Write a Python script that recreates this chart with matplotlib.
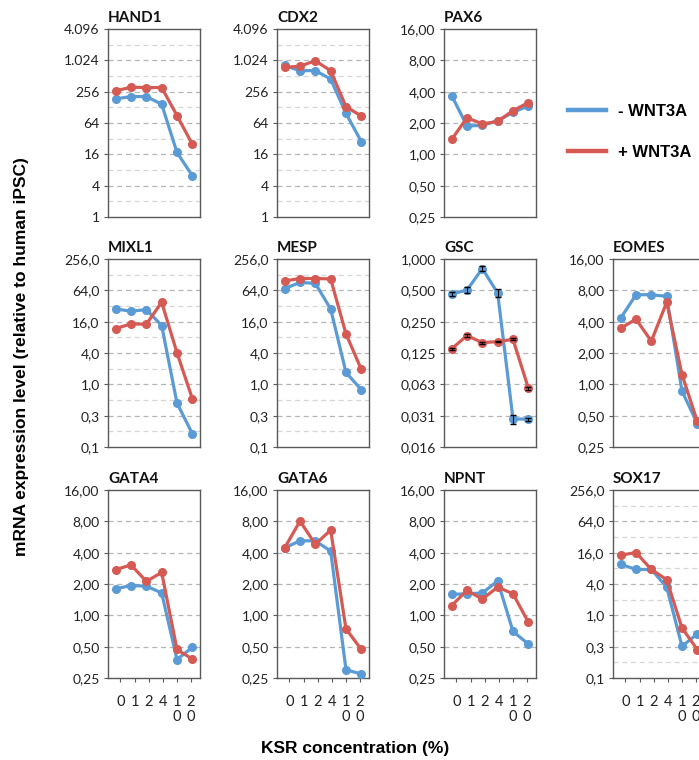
import numpy as np
import matplotlib.pyplot as plt
from matplotlib.lines import Line2D
from matplotlib.ticker import NullFormatter

# KSR concentration (%) categories
ksr_labels = ['0', '1', '2', '4', '1\n0', '2\n0']

genes = ['HAND1', 'CDX2', 'PAX6', 'MIXL1', 'MESP', 'GSC', 'EOMES',
         'GATA4', 'GATA6', 'NPNT', 'SOX17']
grid_pos = [(0, 0), (0, 1), (0, 2), (1, 0), (1, 1), (1, 2), (1, 3),
            (2, 0), (2, 1), (2, 2), (2, 3)]

# expression relative to human iPSC
minus_wnt = {
    'HAND1': [186, 206, 206, 147, 17.4, 6.2],
    'CDX2': [816, 645, 653, 446, 98, 28],
    'PAX6': [3.67, 1.87, 1.90, 2.10, 2.53, 2.92],
    'MIXL1': [28.1, 25.4, 27.3, 13.5, 0.435, 0.113],
    'MESP': [69, 91, 87, 28, 1.69, 0.785],
    'GSC': [0.462, 0.503, 0.81, 0.47, 0.029, 0.029],
    'EOMES': [4.32, 7.26, 7.26, 7.0, 0.86, 0.42],
    'GATA4': [1.80, 1.93, 1.91, 1.64, 0.376, 0.494],
    'GATA6': [4.45, 5.2, 5.2, 4.14, 0.30, 0.273],
    'NPNT': [1.59, 1.61, 1.64, 2.14, 0.70, 0.53],
    'SOX17': [9.6, 7.6, 7.6, 3.5, 0.255, 0.44],
}
plus_wnt = {
    'HAND1': [265, 312, 307, 307, 89, 25],
    'CDX2': [748, 792, 1005, 645, 132, 87],
    'PAX6': [1.39, 2.25, 1.96, 2.07, 2.63, 3.14],
    'MIXL1': [11.8, 14.5, 14.3, 37.8, 4.03, 0.53],
    'MESP': [97, 108, 108, 106, 9.3, 1.93],
    'GSC': [0.137, 0.184, 0.157, 0.161, 0.169, 0.0575],
    'EOMES': [3.46, 4.22, 2.6, 6.14, 1.24, 0.44],
    'GATA4': [2.75, 3.05, 2.12, 2.58, 0.47, 0.38],
    'GATA6': [4.45, 8.04, 4.82, 6.59, 0.74, 0.47],
    'NPNT': [1.24, 1.74, 1.43, 1.87, 1.61, 0.86],
    'SOX17': [14.3, 16.1, 7.6, 4.86, 0.57, 0.22],
}
# small error bars visible on GSC
gsc_err_minus = [0.025, 0.03, 0.05, 0.04, 0.003, 0.001]
gsc_err_plus = [0.003, 0.005, 0.003, 0.003, 0.004, 0.002]

# y axis tick sets (log2 exponents and excel style labels)
ticks_big = ([0, 2, 4, 6, 8, 10, 12], ['1', '4', '16', '64', '256', '1.024', '4.096'])
ticks_mid = ([-2, -1, 0, 1, 2, 3, 4], ['0,25', '0,50', '1,00', '2,00', '4,00', '8,00', '16,00'])
ticks_wide = ([-4, -2, 0, 2, 4, 6, 8], ['0,1', '0,3', '1,0', '4,0', '16,0', '64,0', '256,0'])
ticks_gsc = ([-6, -5, -4, -3, -2, -1, 0], ['0,016', '0,031', '0,063', '0,125', '0,250', '0,500', '1,000'])
gene_ticks = {
    'HAND1': ticks_big, 'CDX2': ticks_big, 'PAX6': ticks_mid,
    'MIXL1': ticks_wide, 'MESP': ticks_wide, 'GSC': ticks_gsc,
    'EOMES': ticks_mid, 'GATA4': ticks_mid, 'GATA6': ticks_mid,
    'NPNT': ticks_mid, 'SOX17': ticks_wide,
}

blue = '#5b9bd5'
red = '#d65a54'
edge = '#595959'

W, H = 699, 760
fig = plt.figure(figsize=(W / 100, H / 100), dpi=100)

col_x = [108, 277, 444, 613]
row_top = [29, 259, 490]
box_w, box_h = 92, 188

x = np.arange(len(ksr_labels))

for gene, (r, c) in zip(genes, grid_pos):
    ax = fig.add_axes([col_x[c] / W, 1 - (row_top[r] + box_h) / H, box_w / W, box_h / H])
    ax.set_yscale('log', base=2)
    exps, labels = gene_ticks[gene]
    ax.set_ylim(2.0 ** exps[0], 2.0 ** exps[-1])
    ax.set_xlim(-0.5, 5.5)

    major = [2.0 ** e for e in exps]
    ax.set_yticks(major)
    ax.set_yticklabels(labels, family='Lato', fontsize=10, color='#222222')
    if exps[1] - exps[0] == 2:
        minor = [2.0 ** (e + 1) for e in exps[:-1]]
        ax.set_yticks(minor, minor=True)
        for m in minor:
            ax.axhline(m, color='#d6d6d6', lw=0.9, ls=(0, (4, 3)), zorder=0)
    else:
        ax.set_yticks([], minor=True)
    ax.yaxis.set_minor_formatter(NullFormatter())
    for m in major[1:-1]:
        ax.axhline(m, color='#b5b5b5', lw=0.9, ls=(0, (4, 3)), zorder=0)

    ax.tick_params(axis='y', which='major', direction='out', length=3, width=0.8,
                   color=edge, pad=3)
    ax.tick_params(axis='y', which='minor', length=0)

    if r == 2:
        ax.set_xticks(0.31 + 0.92 * x)
        ax.set_xticklabels(ksr_labels, family='Lato', fontsize=10.5, color='#222222',
                           linespacing=1.1, va='top')
        ax.tick_params(axis='x', direction='out', length=3, width=0.8, color=edge, pad=9)
    else:
        ax.set_xticks([])

    for s in ax.spines.values():
        s.set_color(edge)
        s.set_linewidth(1.0)

    ax.plot(x, minus_wnt[gene], color=blue, lw=2.3, marker='o', ms=5.5, zorder=3,
            clip_on=False)
    ax.plot(x, plus_wnt[gene], color=red, lw=2.3, marker='o', ms=5.5, zorder=4,
            clip_on=False)
    if gene == 'GSC':
        ax.errorbar(x, minus_wnt[gene], yerr=gsc_err_minus, fmt='none', ecolor='black',
                    elinewidth=0.8, capsize=2.5, zorder=5)
        ax.errorbar(x, plus_wnt[gene], yerr=gsc_err_plus, fmt='none', ecolor='black',
                    elinewidth=0.8, capsize=2.5, zorder=5)

    ax.set_title(gene, loc='left', family='Lato', fontweight='bold', fontsize=11,
                 pad=5, color='#111111')

handles = [Line2D([0], [0], color=blue, lw=3.2), Line2D([0], [0], color=red, lw=3.2)]
fig.legend(handles, ['- WNT3A', '+ WNT3A'], loc='center left',
           bbox_to_anchor=(568 / W, 1 - 132 / H), frameon=False, borderpad=0,
           borderaxespad=0, handlelength=2.25, handletextpad=0.75, labelspacing=1.55,
           prop={'family': 'Liberation Sans', 'weight': 'bold', 'size': 12})

fig.text(22 / W, 1 - 357 / H, 'mRNA expression level (relative to human iPSC)',
         rotation=90, ha='center', va='center', family='Liberation Sans',
         fontweight='bold', fontsize=12.5)
fig.text(355 / W, 1 - 748 / H, 'KSR concentration (%)', ha='center', va='center',
         family='Liberation Sans', fontweight='bold', fontsize=12.5)

fig.savefig('out.png', dpi=100)
